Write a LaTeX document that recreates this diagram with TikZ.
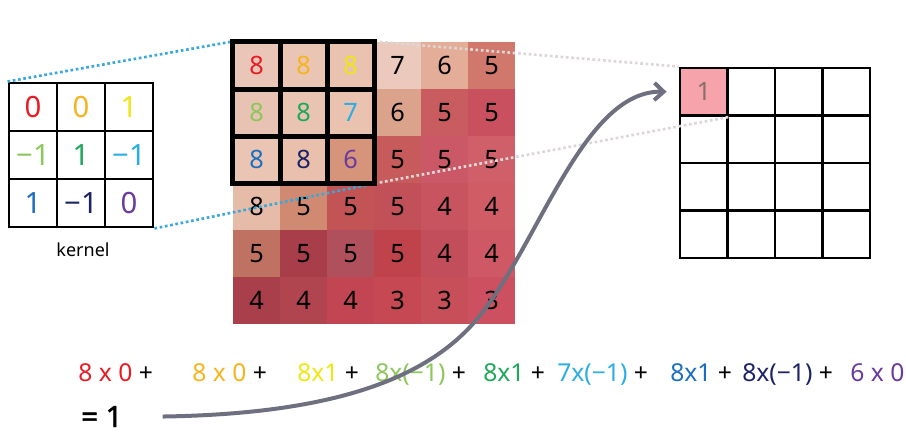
\documentclass[tikz,border=0pt]{standalone}
\usepackage{fontspec}
\setmainfont{Noto Sans}
\newfontfamily\sumfont{Noto Sans}[FakeBold=1.6]
\usetikzlibrary{arrows.meta}
\definecolor{cR}{HTML}{E81C24}
\definecolor{cO}{HTML}{F5B41E}
\definecolor{cY}{HTML}{F0E614}
\definecolor{cLG}{HTML}{8DC65A}
\definecolor{cG}{HTML}{1EA85A}
\definecolor{cLB}{HTML}{2BAEE3}
\definecolor{cB}{HTML}{1B6FBF}
\definecolor{cN}{HTML}{1C2266}
\definecolor{cP}{HTML}{6B3A9E}
\definecolor{dotblue}{HTML}{3AA8DA}
\definecolor{dotgray}{HTML}{DCD6D6}
\definecolor{flowgray}{HTML}{6E7080}
\definecolor{outpink}{HTML}{F6A3AB}
\begin{document}
\begin{tikzpicture}[
  x=0.75pt, y=-0.75pt,
  kcell/.style={draw,line width=2.2pt,minimum size=36pt,inner sep=0pt,font=\fontsize{22}{24}\selectfont},
  icell/.style={minimum size=35.6pt,inner sep=0pt,font=\fontsize{19}{21}\selectfont},
  ocell/.style={draw,line width=2.2pt,minimum size=35.6pt,inner sep=0pt,font=\fontsize{19}{21}\selectfont},
  boxline/.style={line width=3.8pt,line cap=rect},
  dotline/.style={line width=2pt,dash pattern=on 2pt off 2pt},
  eq/.style={anchor=base west,inner sep=0pt,font=\fontsize{18.5}{20}\selectfont},
  flow/.style={line width=3pt,flowgray,-{Straight Barb[length=7pt,width=13pt]}},
]
  \useasboundingbox (0,0) rectangle (906,442);
  % image
  \foreach \v/\hex/\tc [count=\i from 0] in {
      8/EAC6B8/cR, 8/EBC5B4/cO, 8/E9C2B0/cY, 7/ECC9BD/black, 6/E3AD98/black, 5/D0786B/black,
      8/E8C3B4/cLG, 8/EAC4B2/cG, 7/E9C2B0/cLB, 6/DBA38C/black, 5/C95C5E/black, 5/C8505F/black,
      8/EAC5B4/cB, 8/E9C0AC/cN, 6/D6957A/cP, 5/C75A5B/black, 5/CB5866/black, 5/CF606A/black,
      8/E6BBA7/black, 5/D08A72/black, 5/C25455/black, 5/C25058/black, 4/C8545F/black, 4/D05C66/black,
      5/BF7262/black, 5/A83E4A/black, 5/B1505D/black, 5/C0434C/black, 4/C24D5B/black, 4/CE5965/black,
      4/A83F4B/black, 4/B0444F/black, 4/C14553/black, 3/C54853/black, 3/C64F59/black, 3/CD5060/black} {
    \pgfmathtruncatemacro\r{div(\i,6)+1}
    \pgfmathtruncatemacro\c{mod(\i,6)+1}
    \definecolor{cellfill}{HTML}{\hex}
    \node[icell,fill=cellfill,text=\tc] (i\r\c) at (256.5+47*\c-47,65.5+47*\r-47) {\v};
  }
  % kernel
  \foreach \v/\tc [count=\i from 0] in {0/cR,0/cO,1/cY,−1/cLG,1/cG,−1/cLB,1/cB,−1/cN,0/cP} {
    \pgfmathtruncatemacro\r{div(\i,3)+1}
    \pgfmathtruncatemacro\c{mod(\i,3)+1}
    \node[kcell,text=\tc] (k\r\c) at (33+48*\c-48,107+48*\r-48) {\v};
  }
  \node[font=\fontsize{13.5}{15}\selectfont] (klabel) at (83,250) {kernel};
  % output
  \foreach \r in {1,...,4} {
    \foreach \c in {1,...,4} {
      \node[ocell] (o\r\c) at (703.75+47.5*\c-47.5,91.75+47.5*\r-47.5) {};
    }
  }
  \node[ocell,fill=outpink,text={rgb,255:red,138;green,110;blue,110}] at (o11) {1};
  % guide lines
  \draw[dotline,dotblue] (k11.north west) -- (i11.north west);
  \draw[dotline,dotblue] (k33.south east) -- (i33.south east);
  \draw[dotline,dotgray] (i13.north east) -- (o11.north west);
  \draw[dotline,dotgray] (i33.south east) -- (o11.south east);
  % window
  \draw[boxline] (i11.north west) rectangle (i33.south east);
  \draw[boxline] (i11.north east) -- (i31.south east);
  \draw[boxline] (i12.north east) -- (i32.south east);
  \draw[boxline] (i11.south west) -- (i13.south east);
  \draw[boxline] (i21.south west) -- (i23.south east);
  % sum
  \node[eq] (t1) at (78,381)  {{\color{cR}8 x 0} +};
  \node[eq] (t2) at (192,381) {{\color{cO}8 x 0} +};
  \node[eq] (t3) at (297,381) {{\color{cY}8x1} +};
  \node[eq] (t4) at (375,381) {{\color{cLG}8x(−1)} +};
  \node[eq] (t5) at (483,381) {{\color{cG}8x1} +};
  \node[eq] (t6) at (557,381) {{\color{cLB}7x(−1)} +};
  \node[eq] (t7) at (670,381) {{\color{cB}8x1} +};
  \node[eq] (t8) at (742,381) {{\color{cN}8x(−1)} +};
  \node[eq] (t9) at (850,381) {{\color{cP}6 x 0}};
  \node[eq,font=\fontsize{22}{24}\sumfont] (res) at (81,427) {= 1};
  \draw[flow] ([xshift=30pt]res.east) .. controls (330,414) and (420,380) .. (470,327)
    .. controls (535,258) and (580,90) .. ([xshift=-9pt]o11.west);
\end{tikzpicture}
\end{document}
